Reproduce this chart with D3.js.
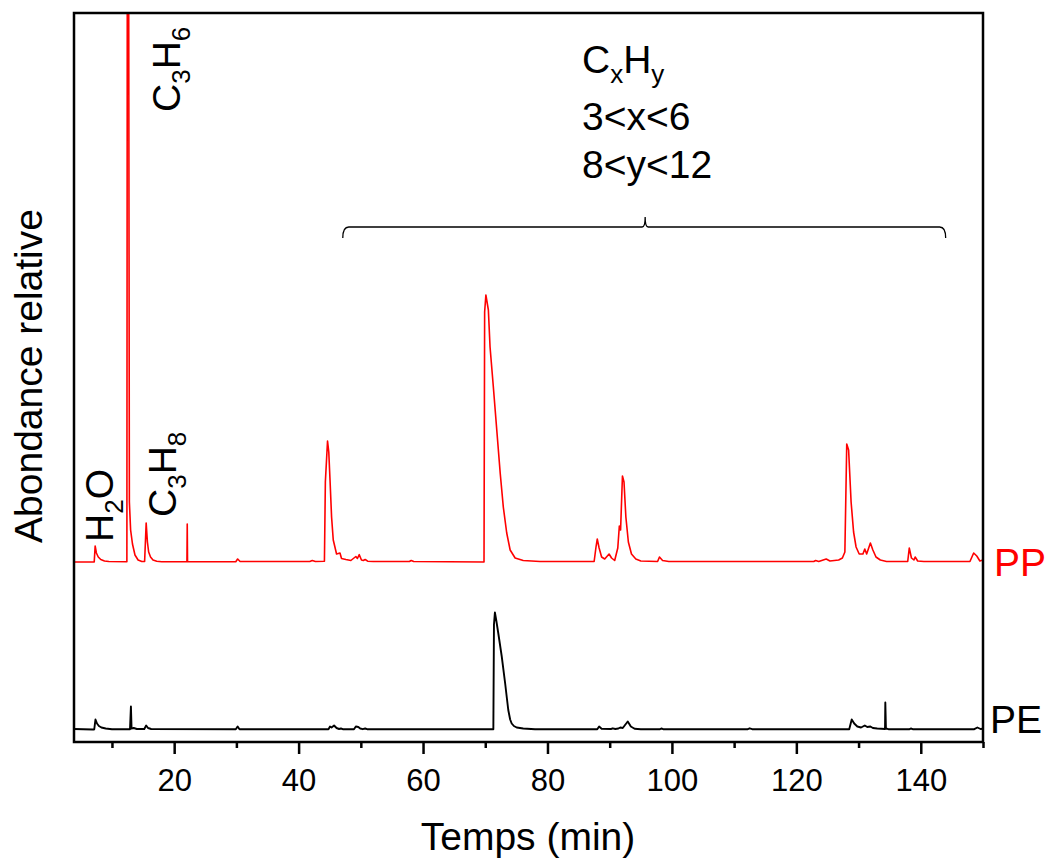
<!DOCTYPE html>
<html>
<head>
<meta charset="utf-8">
<script src="https://cdn.jsdelivr.net/npm/d3@7"></script>
<style>
  html, body { margin: 0; padding: 0; background: #fff; }
  svg { display: block; }
  text { font-family: Arial, "Liberation Sans", Helvetica, sans-serif; }
</style>
</head>
<body>
<svg id="chart" width="1049" height="859"></svg>
<script>
// ---------------- DATA ----------------
// time (min), relative abundance above each trace's own baseline (arbitrary units)
const ppTrace = [
  [3.9,0],[6.9,0],[7.15,0],[7.3,16],[7.5,9],[7.8,5],[8.2,2.5],[8.8,1],[9.5,0.5],[12.4,0.3],
  [12.5,900],[12.62,900],[12.8,60],[13.0,32],[13.3,18],[13.7,7],[14.2,2],[14.8,0.5],
  [15.25,0.5],[15.5,39],[15.7,20],[15.9,10],[16.2,5],[16.6,2],[17.2,0.8],[18,0.3],
  [22.05,0.3],[22.1,38],[22.15,0.3],
  [29.9,0.3],[30.2,3],[30.6,0.5],[41.8,0.5],[42.2,1.5],[42.7,0.5],[44.15,0.8],
  [44.3,80],[44.65,121],[44.85,110],[45.05,82],[45.3,45],[45.57,22],[46.1,8],[46.65,9],[46.9,3.5],
  [47.6,2.5],[48.4,1.5],[49.2,5.5],[49.45,3.5],[49.75,7.3],[50.1,2],[50.4,1.5],[50.7,2.5],[51.1,0.8],[52,0.5],
  [57.8,0.5],[58.1,1.5],[58.5,0.5],[69.8,0],[69.9,250],[70.1,267],[70.5,252],[70.77,215],[71.3,175],
  [71.85,132],[72.4,89],[72.9,55],[73.45,29],[74.0,12],[74.8,4],[76.1,1.5],[78.8,0.5],
  [87.5,0.5],[87.8,15],[88.0,23],[88.3,14],[88.7,5],[89.2,3],[89.9,8],[90.3,4],[90.8,1.5],
  [91.3,14],[91.55,36],[91.75,32],[92.05,86],[92.3,80],[92.6,45],[93,20],[93.5,8],[94.2,3],[95,1],
  [97.7,0.5],[98,5],[98.5,1.5],[99.5,0.5],[122.8,0.5],[123.1,1.5],[123.6,0.5],[124.8,3],[125.4,1],
  [126.8,2],[127.4,4],[127.8,10],[128.1,118],[128.4,112],[128.8,60],[129.2,30],[129.6,15],[130.1,8],
  [130.7,8],[131.0,13],[131.3,8],[131.9,19],[132.3,12],[132.8,5],[133.5,2],[134.5,0.5],
  [137.9,0.5],[138.15,14],[138.5,4],[138.9,2],[139.1,5],[139.5,1],[140.5,0.5],
  [147.9,0.5],[148.5,9],[149.0,6],[149.5,1],[150,2]
];
const peTrace = [
  [3.9,0.5],[6.9,0],[7.15,0],[7.35,10],[7.6,6],[7.9,3.5],[8.3,2],[9,1],[10,0.3],
  [12.9,0.3],[13.05,23],[13.15,1],[13.5,1.5],[14,0.5],[15.2,0.5],[15.5,4],[15.8,1.5],[16.3,0.5],
  [29.9,0.3],[30.2,3],[30.5,0.3],[44.8,0.3],[45.05,3],[45.3,2],[45.7,4],[46.1,1.5],[46.5,0.5],
  [46.8,1],[47.1,0.3],[48.9,0.3],[49.2,3],[49.6,2.5],[49.9,1],[50.3,0.3],[50.7,1],[51,0.3],
  [71.3,0.3],[71.4,105],[71.55,117],[71.8,108],[72.1,96],[72.65,73],[73.2,46],[73.5,30],[73.7,19.5],
  [74.0,10],[74.25,6],[74.6,3.5],[75.05,2],[76.1,1],[78,0.3],
  [88,0.3],[88.3,3],[88.7,0.8],[90.2,0.5],[90.5,1.2],[90.9,0.5],[91.4,1],[91.7,2],[92.1,1.5],
  [92.9,8],[93.4,3],[94,0.8],[95,0.3],[98.1,0.3],[98.3,1],[98.6,0.3],[112.2,0.3],[112.5,1.2],[112.9,0.3],
  [128.5,0.3],[128.9,10],[129.3,6],[129.8,3],[130.4,2],[131,4],[131.4,2.5],[131.9,3],[132.3,1.5],
  [133,1],[134.25,0.5],[134.3,27],[134.4,1],[134.8,0.3],[138.2,0.3],[138.4,1],[138.7,0.3],
  [148.6,0.3],[149.1,2],[149.6,0.5],[150,0.8]
];
const seriesNames = ["PP", "PE"];
const seriesOffsets = [180, 12.5];       // vertical stacking offset of each trace
const seriesColors = ["#ff0000", "#000000"];
const xDomain = [3.9, 150];
const yDomain = [0, 729];
const majorTicks = [20, 40, 60, 80, 100, 120, 140];
const minorTicks = [10, 30, 50, 70, 90, 110, 130, 150];
const xTitle = "Temps (min)";
const yTitle = "Abondance relative";
// brace spanning the C5-C6 region: [start, tip, end] in minutes, height in abundance units
const braceTimes = [47.1, 95.7, 144.0];
const braceLevel = 515;
const braceLines = ["3<x<6", "8<y<12"];

// ---------------- LAYOUT ----------------
const svg = d3.select("#chart");
const L = 74, R = 983, T = 13, B = 742;
const x = d3.scaleLinear().domain(xDomain).range([L, R]);
const y = d3.scaleLinear().domain(yDomain).range([B, T]);

svg.append("defs").append("clipPath").attr("id", "clip")
  .append("rect").attr("x", L).attr("y", T).attr("width", R - L).attr("height", B - T);

// traces
const traces = [ppTrace, peTrace];
const line = d3.line();
traces.forEach((tr, i) => {
  line.x(d => x(d[0])).y(d => y(d[1] + seriesOffsets[i]));
  svg.append("path")
    .datum(tr)
    .attr("clip-path", "url(#clip)")
    .attr("fill", "none")
    .attr("stroke", seriesColors[i])
    .attr("stroke-width", i === 0 ? 1.6 : 1.9)
    .attr("stroke-linejoin", "round")
    .attr("d", line);
});

// frame
svg.append("rect").attr("x", L).attr("y", T).attr("width", R - L).attr("height", B - T)
  .attr("fill", "none").attr("stroke", "#000").attr("stroke-width", 2.5);

// bottom axis
const axMajor = d3.axisBottom(x).tickValues(majorTicks).tickSize(12).tickPadding(15).tickFormat(d3.format("d"));
const gx = svg.append("g").attr("transform", `translate(0,${B})`).call(axMajor);
gx.select(".domain").remove();
gx.selectAll(".tick line").attr("stroke", "#000").attr("stroke-width", 2.5);
gx.selectAll(".tick text").attr("font-size", 31).attr("fill", "#000")
  .attr("font-family", "Arial, 'Liberation Sans', sans-serif");
const axMinor = d3.axisBottom(x).tickValues(minorTicks).tickSize(6).tickFormat("");
const gm = svg.append("g").attr("transform", `translate(0,${B})`).call(axMinor);
gm.select(".domain").remove();
gm.selectAll(".tick line").attr("stroke", "#000").attr("stroke-width", 2.5);

// axis titles
svg.append("text").attr("x", 528).attr("y", 850).attr("text-anchor", "middle")
  .attr("font-size", 39).text(xTitle);
svg.append("text").attr("transform", "translate(42,376) rotate(-90)").attr("text-anchor", "middle")
  .attr("font-size", 39).text(yTitle);

// series labels
svg.append("text").attr("x", 994).attr("y", 576).attr("font-size", 39)
  .attr("fill", seriesColors[0]).text(seriesNames[0]);
svg.append("text").attr("x", 990).attr("y", 733).attr("font-size", 39)
  .attr("fill", seriesColors[1]).text(seriesNames[1]);

// chemical labels (rotated)
function chem(xp, yp, parts) {
  const t = svg.append("text").attr("transform", `translate(${xp},${yp}) rotate(-90)`)
    .attr("font-size", 39);
  parts.forEach(p => {
    const ts = t.append("tspan").text(p[0]);
    if (p[1]) ts.attr("font-size", 26).attr("dy", 10);
    else ts.attr("dy", p[2] || 0);
  });
}
chem(113, 542, [["H"], ["2", true], ["O", false, -10]]);
chem(176, 517, [["C"], ["3", true], ["H", false, -10], ["8", true]]);
chem(180, 112, [["C"], ["3", true], ["H", false, -10], ["6", true]]);

// brace
const bx0 = x(braceTimes[0]), bxm = x(braceTimes[1]), bx1 = x(braceTimes[2]);
const by = y(braceLevel);
svg.append("path")
  .attr("d", `M${bx0},${by + 11} Q${bx0},${by} ${bx0 + 6},${by} L${bxm - 3},${by} Q${bxm},${by} ${bxm},${by - 10} Q${bxm},${by} ${bxm + 3},${by} L${bx1 - 6},${by} Q${bx1},${by} ${bx1},${by + 11}`)
  .attr("fill", "none").attr("stroke", "#000").attr("stroke-width", 1.3);

// CxHy block
const cx = 582;
const t1 = svg.append("text").attr("x", cx).attr("y", 73).attr("font-size", 39);
t1.append("tspan").text("C");
t1.append("tspan").attr("font-size", 26).attr("dy", 10).text("x");
t1.append("tspan").attr("dy", -10).text("H");
t1.append("tspan").attr("font-size", 26).attr("dy", 10).text("y");
svg.append("text").attr("x", cx).attr("y", 130).attr("font-size", 39).text(braceLines[0]);
svg.append("text").attr("x", cx).attr("y", 178).attr("font-size", 39).text(braceLines[1]);
</script>
</body>
</html>
